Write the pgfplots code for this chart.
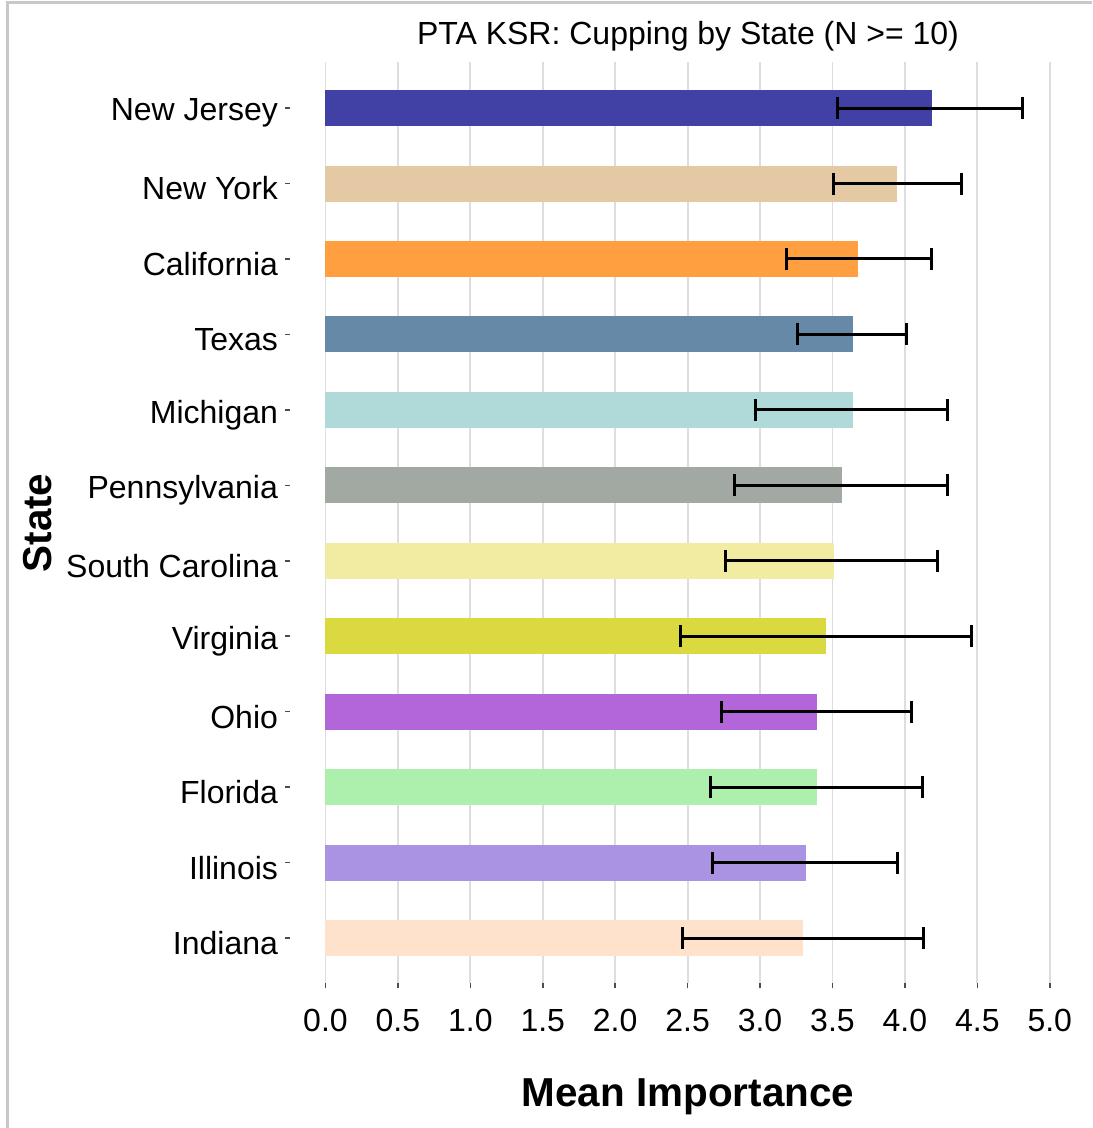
\documentclass[border=0pt]{standalone}
\usepackage{pgfplots}
\pgfplotsset{compat=1.18}
\usepackage{fontspec}
\setmainfont{Liberation Sans}

\definecolor{frame}{HTML}{C8C8C8}
\definecolor{gridc}{HTML}{DEDEDE}
\definecolor{cNJ}{HTML}{4141A5}
\definecolor{cNY}{HTML}{E5C9A5}
\definecolor{cCA}{HTML}{FF9F40}
\definecolor{cTX}{HTML}{6689A8}
\definecolor{cMI}{HTML}{B0DADA}
\definecolor{cPA}{HTML}{A2A8A2}
\definecolor{cSC}{HTML}{F2EBA2}
\definecolor{cVA}{HTML}{DADA40}
\definecolor{cOH}{HTML}{B266D9}
\definecolor{cFL}{HTML}{ADF0AD}
\definecolor{cIL}{HTML}{AB93E3}
\definecolor{cIN}{HTML}{FFE2CB}

\pgfplotsset{
  stbar/.style={xbar, bar width=18pt, bar shift=0pt, draw=none, fill=#1,
    error bars/.cd, x dir=both, x explicit, error mark=|,
    error bar style={draw=black, line width=1.5pt},
    error mark options={draw=black, line width=1.5pt, mark size=5.5pt}},
}

\begin{document}
\begin{tikzpicture}[x=0.5pt,y=0.5pt]
\path[use as bounding box] (0,0) rectangle (1092,1128);
\draw[frame, line width=1.5pt] (7,0) -- (7,1125.5) -- (1092,1125.5);

\begin{axis}[
  at={(145pt,72.35pt)}, anchor=south west,
  scale only axis, width=390pt, height=460.6pt,
  xmin=-0.245, xmax=5.14, ymin=-0.6, ymax=11.61,
  axis line style={draw=none},
  xmajorgrids, grid style={gridc, line width=0.9pt},
  xtick={0,0.5,1,1.5,2,2.5,3,3.5,4,4.5,5},
  xticklabel style={yshift=-7pt, /pgf/number format/.cd, fixed, fixed zerofill, precision=1},
  yticklabel style={yshift=-2.5pt},
  ytick={0,...,11},
  yticklabels={Indiana,Illinois,Florida,Ohio,Virginia,South Carolina,Pennsylvania,Michigan,Texas,California,New York,New Jersey},
  xtick pos=bottom, ytick pos=left,
  tick align=outside, major tick length=2.5pt,
  tick style={black!70, line width=0.8pt},
  font=\fontsize{16}{19}\selectfont,
  /pgf/number format/assume math mode=true,
]
% value, upper error, lower error
\addplot[stbar=cNJ] coordinates {(4.186,11) += (0.628,0) -= (0.649,0)};
\addplot[stbar=cNY] coordinates {(3.944,10) += (0.448,0) -= (0.435,0)};
\addplot[stbar=cCA] coordinates {(3.675,9) += (0.511,0) -= (0.490,0)};
\addplot[stbar=cTX] coordinates {(3.640,8) += (0.373,0) -= (0.379,0)};
\addplot[stbar=cMI] coordinates {(3.640,7) += (0.656,0) -= (0.669,0)};
\addplot[stbar=cPA] coordinates {(3.565,6) += (0.731,0) -= (0.739,0)};
\addplot[stbar=cSC] coordinates {(3.509,5) += (0.718,0) -= (0.745,0)};
\addplot[stbar=cVA] coordinates {(3.452,4) += (1.009,0) -= (0.999,0)};
\addplot[stbar=cOH] coordinates {(3.392,3) += (0.651,0) -= (0.658,0)};
\addplot[stbar=cFL] coordinates {(3.392,2) += (0.729,0) -= (0.736,0)};
\addplot[stbar=cIL] coordinates {(3.316,1) += (0.633,0) -= (0.642,0)};
\addplot[stbar=cIN] coordinates {(3.300,0) += (0.826,0) -= (0.833,0)};
\end{axis}

\node[font=\fontsize{16}{19}\selectfont] at (688,1092) {PTA KSR: Cupping by State (N >= 10)};
\node[font=\bfseries\fontsize{20.2}{24}\selectfont] at (688,31) {Mean Importance};
\node[font=\bfseries\fontsize{20.2}{24}\selectfont, rotate=90] at (38,605) {State};
\end{tikzpicture}
\end{document}
